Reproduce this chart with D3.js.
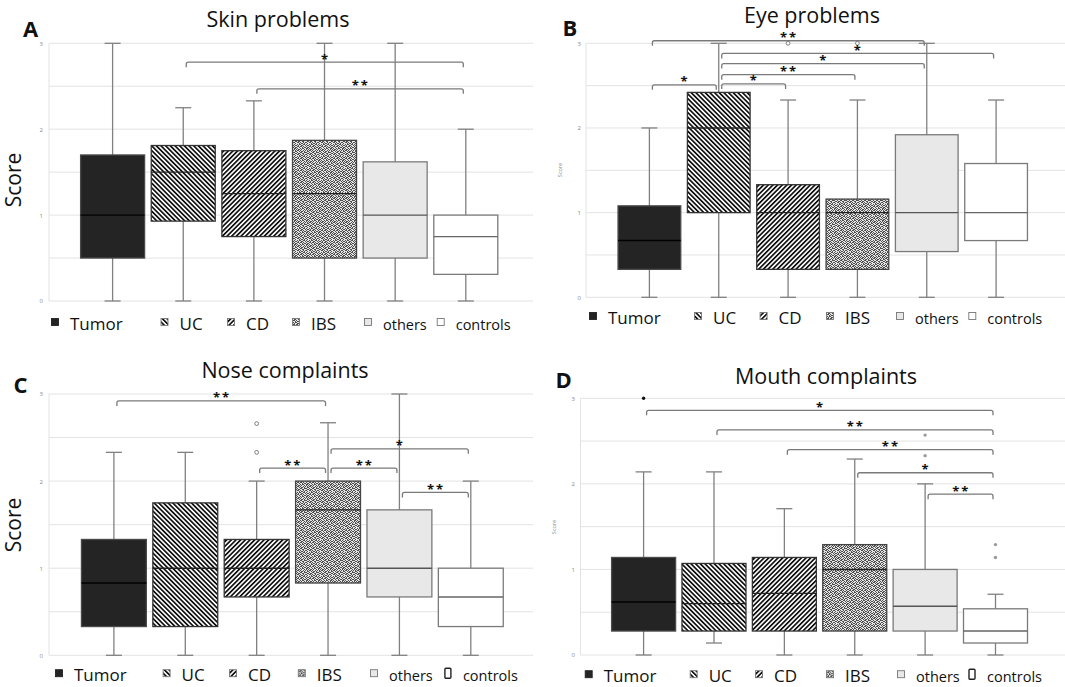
<!DOCTYPE html>
<html>
<head>
<meta charset="utf-8">
<script src="https://cdn.jsdelivr.net/npm/d3@7"></script>
<style>
  body { margin: 0; background: #fff; }
  svg { display: block; font-family: "Open Sans", sans-serif; }
</style>
</head>
<body>
<div id="chart"></div>
<script>
// groups and axis
const groups = ["Tumor", "UC", "CD", "IBS", "others", "controls"];
const yTicks = [0, 1, 2, 3];
const gridSteps = [0, 0.5, 1, 1.5, 2, 2.5, 3];

// box stats per group: [min, q1, median, q3, max]
const skinStats = [[0, 0.5, 1, 1.7, 3], [0, 0.93, 1.5, 1.81, 2.25], [0, 0.75, 1.25, 1.75, 2.33],
                   [0, 0.5, 1.25, 1.87, 3], [0, 0.5, 1, 1.62, 3], [0, 0.31, 0.75, 1, 2]];
const eyeStats = [[0, 0.33, 0.67, 1.08, 2], [0, 1, 2, 2.42, 3], [0, 0.33, 1, 1.33, 2.33],
                  [0, 0.33, 1, 1.16, 2.33], [0, 0.54, 1, 1.92, 3], [0, 0.67, 1, 1.58, 2.33]];
const noseStats = [[0, 0.33, 0.83, 1.33, 2.33], [0, 0.33, 1, 1.75, 2.33], [0, 0.67, 1, 1.33, 2],
                   [0, 0.83, 1.67, 2, 2.67], [0, 0.67, 1, 1.67, 3], [0, 0.33, 0.67, 1, 2]];
const mouthStats = [[0, 0.28, 0.62, 1.14, 2.14], [0.14, 0.28, 0.6, 1.07, 2.14], [0, 0.28, 0.72, 1.14, 1.71],
                    [0, 0.28, 1, 1.29, 2.29], [0, 0.28, 0.57, 1, 2], [0, 0.14, 0.28, 0.54, 0.71]];

// outliers: [group, value]
const skinOutliers = [];
const eyeOutliers = [["CD", 3], ["IBS", 3]];
const noseOutliers = [["CD", 2.33], ["CD", 2.66]];
const mouthOutliers = [["Tumor", 3], ["others", 2.57], ["others", 2.33], ["controls", 1.29], ["controls", 1.14]];

// significance brackets: [from, to, height, label]
const skinSig = [["UC", "controls", 2.78, "*"], ["CD", "controls", 2.47, "**"]];
const eyeSig = [["Tumor", "others", 3.03, "**"], ["UC", "controls", 2.88, "*"], ["UC", "others", 2.76, "*"],
                ["UC", "IBS", 2.63, "**"], ["UC", "CD", 2.52, "*"], ["Tumor", "UC", 2.51, "*"]];
const noseSig = [["Tumor", "IBS", 2.92, "**"], ["CD", "IBS", 2.15, "**"], ["IBS", "others", 2.15, "**"],
                 ["IBS", "controls", 2.37, "*"], ["others", "controls", 1.87, "**"]];
const mouthSig = [["Tumor", "controls", 2.86, "*"], ["UC", "controls", 2.63, "**"], ["CD", "controls", 2.4, "**"],
                  ["IBS", "controls", 2.13, "*"], ["others", "controls", 1.88, "**"]];

// panel layout
const panels = [
  {letter: "A", title: "Skin problems", stats: skinStats, outliers: skinOutliers, sig: skinSig,
   gridL: 49, gridR: 533, y0: 301, y3: 43.3, xFirst: 112.6, xLast: 465.8, boxW: 64, tickX: 43,
   titleX: 278, titleY: 27, letterX: 23, letterY: 37, scoreX: 21, scoreY: 180, bigScore: true,
   legendY: 329.5, legendX: [55, 164.5, 231, 296, 368, 440.7], tallControls: false, filledOut: false},
  {letter: "B", title: "Eye problems", stats: eyeStats, outliers: eyeOutliers, sig: eyeSig,
   gridL: 586, gridR: 1065, y0: 297.3, y3: 43.3, xFirst: 649.4, xLast: 996.1, boxW: 62.7, tickX: 581,
   titleX: 812, titleY: 23, letterX: 562.4, letterY: 36, scoreX: 562, scoreY: 170, bigScore: false,
   legendY: 323.5, legendX: [593, 698, 763.6, 830, 900, 972.3], tallControls: false, filledOut: false},
  {letter: "C", title: "Nose complaints", stats: noseStats, outliers: noseOutliers, sig: noseSig,
   gridL: 49, gridR: 533, y0: 655.3, y3: 394, xFirst: 113.9, xLast: 470.8, boxW: 64.9, tickX: 43,
   titleX: 285, titleY: 378, letterX: 13.5, letterY: 393, scoreX: 21, scoreY: 525, bigScore: true,
   legendY: 680.7, legendX: [59, 166.6, 233, 301.8, 374, 447.9], tallControls: true, filledOut: false},
  {letter: "D", title: "Mouth complaints", stats: mouthStats, outliers: mouthOutliers, sig: mouthSig,
   gridL: 580.5, gridR: 1065, y0: 655, y3: 398.3, xFirst: 643.6, xLast: 995.5, boxW: 64, tickX: 575,
   titleX: 826, titleY: 384, letterX: 555.6, letterY: 388, scoreX: 556, scoreY: 527, bigScore: false,
   legendY: 681.7, legendX: [588.7, 693.7, 759, 830, 901, 972], tallControls: true, filledOut: true}
];

const boxFill = {Tumor: "#242424", UC: "url(#hatchBack)", CD: "url(#hatchFwd)", IBS: "url(#stipple)",
                 others: "#e8e8e8", controls: "#ffffff"};
const boxStroke = {Tumor: "#4a4a4a", UC: "#333", CD: "#333", IBS: "#444", others: "#7a7a7a", controls: "#7a7a7a"};
const medianStroke = {Tumor: "#000", UC: "#222", CD: "#222", IBS: "#222", others: "#555", controls: "#666"};

const svg = d3.select("#chart").append("svg")
  .attr("width", 1065)
  .attr("height", 687);

svg.append("rect").attr("width", 1065).attr("height", 687).attr("fill", "#fff");

// patterns
const defs = svg.append("defs");

function hatch(id, angle) {
  const pat = defs.append("pattern")
    .attr("id", id)
    .attr("patternUnits", "userSpaceOnUse")
    .attr("width", 3.3).attr("height", 10)
    .attr("patternTransform", `rotate(${angle})`);
  pat.append("rect").attr("width", 3.3).attr("height", 10).attr("fill", "#fff");
  pat.append("rect").attr("width", 1.7).attr("height", 10).attr("fill", "#111");
}
hatch("hatchBack", -45);
hatch("hatchFwd", 45);

// irregular speckle tile for the IBS fill
const stippleRows = [
  "100110100101", "011001011010", "110100100110", "001011011001",
  "101100110100", "010010101011", "100101010110", "011010011001",
  "110011100100", "001100011011", "100101100110", "011010010001"];
const stip = defs.append("pattern")
  .attr("id", "stipple")
  .attr("patternUnits", "userSpaceOnUse")
  .attr("width", 12).attr("height", 12);
stip.append("rect").attr("width", 12).attr("height", 12).attr("fill", "#e4e4e4");
stippleRows.forEach((row, r) => {
  row.split("").forEach((c, k) => {
    if (c === "1") stip.append("rect").attr("x", k).attr("y", r).attr("width", 1).attr("height", 1).attr("fill", "#505050");
  });
});

function bracketPath(x1, x2, yb) {
  const r = 2, drop = 5;
  return `M${x1},${yb + drop} L${x1},${yb + r} Q${x1},${yb} ${x1 + r},${yb}` +
         ` L${x2 - r},${yb} Q${x2},${yb} ${x2},${yb + r} L${x2},${yb + drop}`;
}

function drawPanel(p) {
  const g = svg.append("g");
  const x = d3.scalePoint().domain(groups).range([p.xFirst, p.xLast]);
  const y = d3.scaleLinear().domain([0, 3]).range([p.y0, p.y3]);

  // grid
  g.append("g").selectAll("line")
    .data(gridSteps)
    .join("line")
    .attr("x1", p.gridL).attr("x2", p.gridR)
    .attr("y1", d => y(d)).attr("y2", d => y(d))
    .attr("stroke", "#e3e3e3").attr("stroke-width", 1);
  g.append("line")
    .attr("x1", p.gridL).attr("x2", p.gridL)
    .attr("y1", y(0)).attr("y2", y(3))
    .attr("stroke", "#e3e3e3");

  const yAxis = g.append("g")
    .attr("transform", `translate(${p.tickX},0)`)
    .call(d3.axisLeft(y).tickValues(yTicks).tickSize(0).tickPadding(0).tickFormat(d3.format("d")));
  yAxis.select(".domain").remove();
  yAxis.selectAll("text")
    .attr("font-size", 6)
    .attr("fill", "#888")
    .attr("font-family", "Open Sans, sans-serif");

  const boxes = groups.map((name, i) => ({name, s: p.stats[i]}));

  // whiskers
  const wh = g.append("g")
    .attr("stroke", "#808080")
    .attr("stroke-width", 1.3)
    .selectAll("g")
    .data(boxes)
    .join("g");
  wh.append("line")
    .attr("x1", d => x(d.name)).attr("x2", d => x(d.name))
    .attr("y1", d => y(d.s[0])).attr("y2", d => y(d.s[4]));
  wh.append("line")
    .attr("x1", d => x(d.name) - 8).attr("x2", d => x(d.name) + 8)
    .attr("y1", d => y(d.s[0])).attr("y2", d => y(d.s[0]));
  wh.append("line")
    .attr("x1", d => x(d.name) - 8).attr("x2", d => x(d.name) + 8)
    .attr("y1", d => y(d.s[4])).attr("y2", d => y(d.s[4]));

  // boxes
  g.append("g").selectAll("rect")
    .data(boxes)
    .join("rect")
    .attr("x", d => x(d.name) - p.boxW / 2)
    .attr("width", p.boxW)
    .attr("y", d => y(d.s[3]))
    .attr("height", d => y(d.s[1]) - y(d.s[3]))
    .attr("fill", d => boxFill[d.name])
    .attr("stroke", d => boxStroke[d.name])
    .attr("stroke-width", 1.3);

  // medians
  g.append("g").selectAll("line")
    .data(boxes)
    .join("line")
    .attr("x1", d => x(d.name) - p.boxW / 2).attr("x2", d => x(d.name) + p.boxW / 2)
    .attr("y1", d => y(d.s[2])).attr("y2", d => y(d.s[2]))
    .attr("stroke", d => medianStroke[d.name])
    .attr("stroke-width", 1.4);

  // outliers
  g.append("g").selectAll("circle")
    .data(p.outliers)
    .join("circle")
    .attr("cx", d => x(d[0]))
    .attr("cy", d => y(d[1]))
    .attr("r", p.filledOut ? 1.7 : 1.9)
    .attr("fill", d => p.filledOut ? (d[0] === "Tumor" ? "#111" : "#9a9a9a") : "#fff")
    .attr("stroke", p.filledOut ? "none" : "#808080")
    .attr("stroke-width", 1);

  // significance brackets
  const sg = g.append("g").selectAll("g")
    .data(p.sig)
    .join("g");
  sg.append("path")
    .attr("d", d => bracketPath(x(d[0]) + 3, x(d[1]) - 2.5, y(d[2])))
    .attr("fill", "none")
    .attr("stroke", "#7a7a7a")
    .attr("stroke-width", 1.3);
  sg.append("text")
    .attr("x", d => (x(d[0]) + x(d[1])) / 2 + 1)
    .attr("y", d => y(d[2]) + 1.5)
    .attr("text-anchor", "middle")
    .attr("font-size", 13)
    .attr("font-weight", "bold")
    .attr("letter-spacing", 2)
    .attr("fill", "#111")
    .text(d => d[3]);

  // titles
  g.append("text")
    .attr("x", p.titleX).attr("y", p.titleY)
    .attr("text-anchor", "middle")
    .attr("font-size", 21.5)
    .attr("fill", "#111")
    .text(p.title);
  g.append("text")
    .attr("x", p.letterX).attr("y", p.letterY)
    .attr("font-size", 22)
    .attr("font-weight", "bold")
    .attr("fill", "#111")
    .text(p.letter);
  g.append("text")
    .attr("transform", `translate(${p.scoreX},${p.scoreY}) rotate(-90)`)
    .attr("text-anchor", "middle")
    .attr("font-size", p.bigScore ? 21 : 5.5)
    .attr("fill", p.bigScore ? "#111" : "#888")
    .text("Score");

  // legend
  const lg = g.append("g").selectAll("g")
    .data(groups)
    .join("g")
    .attr("transform", (d, i) => `translate(${p.legendX[i]},${p.legendY - 7.5})`);
  lg.append("rect")
    .attr("x", d => (p.tallControls && d === "controls") ? -3 : -3.5)
    .attr("y", d => (p.tallControls && d === "controls") ? -5 : -3.5)
    .attr("width", d => (p.tallControls && d === "controls") ? 6 : 7)
    .attr("height", d => (p.tallControls && d === "controls") ? 10 : 7)
    .attr("rx", d => (p.tallControls && d === "controls") ? 1 : 0)
    .attr("fill", d => boxFill[d])
    .attr("stroke", d => d === "Tumor" ? "#222" : (d === "controls" && p.tallControls ? "#222" : "#777"))
    .attr("stroke-width", d => (p.tallControls && d === "controls") ? 1.4 : 0.9);
  lg.append("text")
    .attr("x", 15)
    .attr("y", 7.5)
    .attr("font-size", (d, i) => i < 4 ? 17 : 14.5)
    .attr("fill", "#111")
    .text(d => d);
}

panels.forEach(drawPanel);
</script>
</body>
</html>
